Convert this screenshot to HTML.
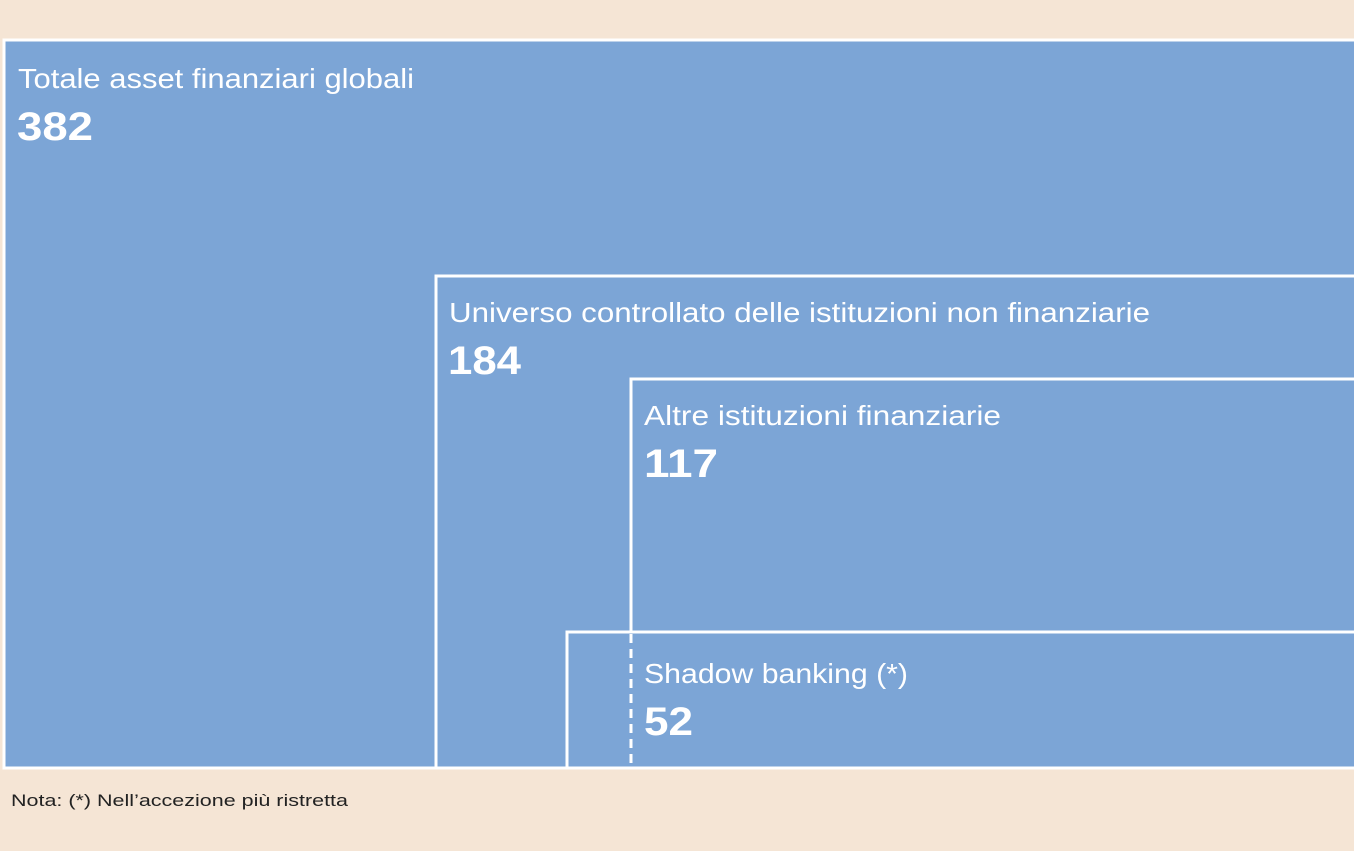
<!DOCTYPE html>
<html><head><meta charset="utf-8"><style>
html,body{margin:0;padding:0;background:#f5e5d5;}
svg{display:block}
text{font-family:"Liberation Sans",sans-serif;fill:#fff}
</style></head><body>
<svg width="1354" height="851" viewBox="0 0 1354 851">
<rect x="0" y="0" width="1354" height="851" fill="#f5e5d5"/>
<g fill="#7ca5d6" stroke="#fff" stroke-width="3">
<rect x="4" y="40" width="1354" height="728"/>
<rect x="436" y="276" width="922" height="492"/>
<rect x="631" y="379" width="727" height="389"/>
<rect x="567" y="632" width="791" height="136"/>
</g>
<line x1="631" y1="634" x2="631" y2="768" stroke="#fff" stroke-width="3" stroke-dasharray="9,6"/>
<text x="18" y="88" font-size="28" textLength="396" lengthAdjust="spacingAndGlyphs">Totale asset finanziari globali</text>
<text x="17" y="140" font-size="40" font-weight="bold" textLength="76" lengthAdjust="spacingAndGlyphs">382</text>
<text x="449" y="322" font-size="28" textLength="701" lengthAdjust="spacingAndGlyphs">Universo controllato delle istituzioni non finanziarie</text>
<text x="448" y="374" font-size="40" font-weight="bold" textLength="73" lengthAdjust="spacingAndGlyphs">184</text>
<text x="644" y="425" font-size="28" textLength="357" lengthAdjust="spacingAndGlyphs">Altre istituzioni finanziarie</text>
<text x="644" y="477" font-size="40" font-weight="bold" textLength="74" lengthAdjust="spacingAndGlyphs">117</text>
<text x="644" y="683" font-size="28" textLength="264" lengthAdjust="spacingAndGlyphs">Shadow banking (*)</text>
<text x="644" y="735" font-size="40" font-weight="bold" textLength="49" lengthAdjust="spacingAndGlyphs">52</text>
<text x="11" y="806" font-size="17" style="fill:#222" textLength="337" lengthAdjust="spacingAndGlyphs">Nota: (*) Nell’accezione più ristretta</text>
</svg>
</body></html>
